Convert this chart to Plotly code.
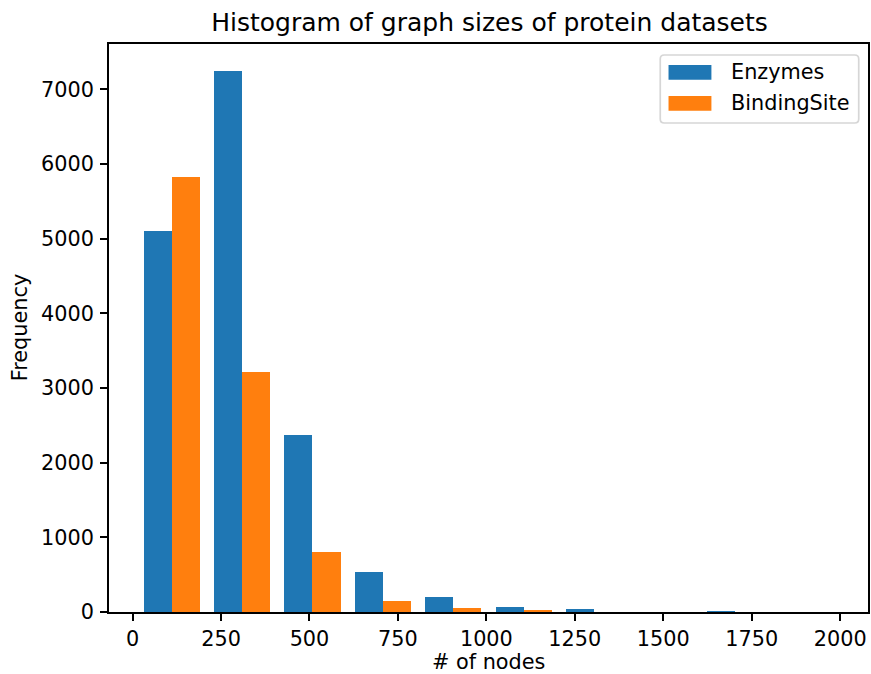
import plotly.graph_objects as go

# ---- data ----
bin_edges = [11, 210, 409, 608, 807, 1006, 1205, 1404, 1603, 1802, 2001]
enzymes_counts = [5100, 7240, 2375, 540, 205, 70, 44, 0, 12, 0]
binding_counts = [5830, 3218, 807, 151, 48, 22, 0, 0, 0, 0]
series_names = ["Enzymes", "BindingSite"]
x_ticks = [0, 250, 500, 750, 1000, 1250, 1500, 1750, 2000]
y_ticks = [0, 1000, 2000, 3000, 4000, 5000, 6000, 7000]

colors = ["#1f77b4", "#ff7f0e"]
FONT = "DejaVu Sans"
TICK = 20.8

lefts = bin_edges[:-1]
widths = [bin_edges[i + 1] - bin_edges[i] for i in range(len(lefts))]

fig = go.Figure()
for j, (name, counts) in enumerate(zip(series_names, [enzymes_counts, binding_counts])):
    xs = [l + w * (0.1 + 0.4 * j + 0.2) for l, w in zip(lefts, widths)]
    fig.add_trace(go.Bar(
        x=xs, y=counts, width=[0.4 * w for w in widths],
        marker=dict(color=colors[j], line=dict(width=0)),
        name=name, showlegend=False,
    ))

# axis ranges like matplotlib autoscale (5% x margins, 5% y top margin)
x0 = lefts[0] + 0.1 * widths[0]
x1 = lefts[-1] + 0.9 * widths[-1]
span = x1 - x0
ymax = 7245 * 1.05

W, H = 871, 674
L, R, T, B = 109, 1, 44, 62
pw = W - L - R
ph = H - T - B

fig.update_layout(
    width=W, height=H,
    margin=dict(l=L, r=R, t=T, b=B, pad=0),
    paper_bgcolor="white", plot_bgcolor="white",
    barmode="overlay", bargap=0,
    font=dict(family=FONT, size=TICK, color="black"),
    title=dict(text="Histogram of graph sizes of protein datasets",
               x=(L + pw / 2) / W, xanchor="center",
               y=1 - 22 / H, yanchor="middle",
               font=dict(family=FONT, size=25, color="black")),
    xaxis=dict(range=[x0 - 0.05 * span, x1 + 0.05 * span],
               tickvals=x_ticks, ticktext=[str(v) for v in x_ticks],
               ticks="outside", ticklen=7, tickwidth=1.7, tickcolor="black",
               showline=True, linecolor="black", linewidth=1.7, mirror=True,
               showgrid=False, zeroline=False,
               tickfont=dict(family=FONT, size=TICK, color="black")),
    yaxis=dict(range=[0, ymax],
               tickvals=y_ticks, ticktext=[str(v) for v in y_ticks],
               ticks="outside", ticklen=7, tickwidth=1.7, tickcolor="black",
               ticklabelstandoff=2,
               showline=True, linecolor="black", linewidth=1.7, mirror=True,
               showgrid=False, zeroline=False,
               tickfont=dict(family=FONT, size=TICK, color="black")),
)

def px_x(px):
    return (px - L) / pw

def px_y(py):
    return (H - B - py) / ph

# axis labels
fig.add_annotation(text="# of nodes", xref="paper", yref="paper",
                   x=0.5, y=px_y(662), xanchor="center", yanchor="middle",
                   showarrow=False, font=dict(family=FONT, size=TICK, color="black"))
fig.add_annotation(text="Frequency", xref="paper", yref="paper",
                   x=px_x(20), y=0.5, xanchor="center", yanchor="middle",
                   textangle=-90, showarrow=False,
                   font=dict(family=FONT, size=TICK, color="black"))

# legend (matplotlib-style box)
bx0, bx1, by0, by1 = 661.7, 860.7, 55, 123
r = 4
path = (f"M {px_x(bx0 + r)},{px_y(by0)} L {px_x(bx1 - r)},{px_y(by0)} "
        f"Q {px_x(bx1)},{px_y(by0)} {px_x(bx1)},{px_y(by0 + r)} "
        f"L {px_x(bx1)},{px_y(by1 - r)} Q {px_x(bx1)},{px_y(by1)} {px_x(bx1 - r)},{px_y(by1)} "
        f"L {px_x(bx0 + r)},{px_y(by1)} Q {px_x(bx0)},{px_y(by1)} {px_x(bx0)},{px_y(by1 - r)} "
        f"L {px_x(bx0)},{px_y(by0 + r)} Q {px_x(bx0)},{px_y(by0)} {px_x(bx0 + r)},{px_y(by0)} Z")
fig.add_shape(type="path", path=path, xref="paper", yref="paper",
              line=dict(color="#d6d6d6", width=1.7), fillcolor="white", layer="above")
rows = [(65, 79.7), (96, 110.7)]
for (ya, yb), name, c in zip(rows, series_names, colors):
    fig.add_shape(type="rect", xref="paper", yref="paper",
                  x0=px_x(670), x1=px_x(713), y0=px_y(yb), y1=px_y(ya),
                  line=dict(width=0), fillcolor=c, layer="above")
    fig.add_annotation(text=name, xref="paper", yref="paper",
                       x=px_x(731), y=px_y((ya + yb) / 2), xanchor="left", yanchor="middle",
                       showarrow=False, font=dict(family=FONT, size=TICK, color="black"))

fig.write_html(
    "out.html",
    config={"displayModeBar": False},
    post_script="document.body.style.margin='0';document.body.style.overflow='hidden';",
)
